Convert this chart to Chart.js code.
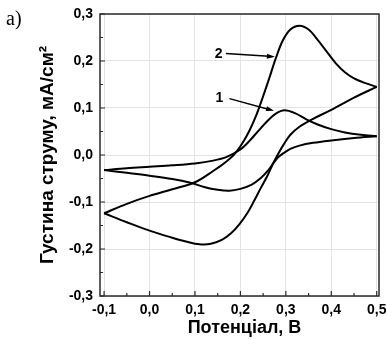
<!DOCTYPE html>
<html>
<head>
<meta charset="utf-8">
<script src="https://cdn.jsdelivr.net/npm/chart.js@4"></script>
<style>
html, body { margin: 0; padding: 0; background: #fff; }
</style>
</head>
<body>
<canvas id="cvChart" width="387" height="339"></canvas>
<script>
// Tick labels (values on the axes)
const xTicks = [-0.1, 0.0, 0.1, 0.2, 0.3, 0.4, 0.5];
const yTicks = [-0.3, -0.2, -0.1, 0.0, 0.1, 0.2, 0.3];

// Curve 1, forward scan (potential, V / current density, mA/cm2)
const c1FwdE = [-0.1, -0.05, 0.0, 0.05, 0.1, 0.14, 0.17, 0.2, 0.22, 0.24, 0.26, 0.278, 0.297, 0.32, 0.345, 0.37, 0.4, 0.43, 0.465, 0.5];
const c1FwdJ = [-0.032, -0.028, -0.025, -0.022, -0.018, -0.012, -0.004, 0.012, 0.030, 0.052, 0.073, 0.088, 0.095, 0.089, 0.076, 0.065, 0.055, 0.048, 0.043, 0.040];
// Curve 1, reverse scan
const c1RevE = [0.5, 0.45, 0.4, 0.36, 0.33, 0.31, 0.295, 0.283, 0.272, 0.26, 0.245, 0.225, 0.2, 0.176, 0.15, 0.12, 0.09, 0.05, 0.0, -0.05, -0.1];
const c1RevJ = [0.040, 0.036, 0.031, 0.026, 0.020, 0.013, 0.004, -0.005, -0.018, -0.034, -0.049, -0.063, -0.072, -0.076, -0.074, -0.068, -0.059, -0.051, -0.044, -0.038, -0.032];

// Curve 2, forward scan
const c2FwdE = [-0.1, -0.05, 0.0, 0.05, 0.1, 0.14, 0.165, 0.187, 0.205, 0.22, 0.235, 0.25, 0.264, 0.278, 0.293, 0.31, 0.33, 0.35, 0.37, 0.39, 0.41, 0.43, 0.45, 0.475, 0.5];
const c2FwdJ = [-0.124, -0.104, -0.087, -0.073, -0.058, -0.034, -0.017, 0.002, 0.026, 0.052, 0.085, 0.125, 0.165, 0.206, 0.243, 0.267, 0.275, 0.267, 0.245, 0.220, 0.195, 0.176, 0.163, 0.153, 0.145];
// Curve 2, reverse scan
const c2RevE = [0.5, 0.45, 0.4, 0.36, 0.33, 0.31, 0.295, 0.283, 0.272, 0.26, 0.245, 0.23, 0.215, 0.198, 0.18, 0.16, 0.135, 0.11, 0.08, 0.05, 0.0, -0.05, -0.1];
const c2RevJ = [0.145, 0.122, 0.096, 0.077, 0.060, 0.043, 0.022, 0.002, -0.018, -0.043, -0.070, -0.098, -0.124, -0.147, -0.166, -0.180, -0.189, -0.190, -0.184, -0.176, -0.161, -0.143, -0.124];

// Curve numbers and their arrows (data coordinates)
const noteText = ['1', '2'];
const noteAt = [[0.154, 0.122], [0.152, 0.2155]];
const arrowFrom = [[0.176, 0.120], [0.168, 0.216]];
const arrowTo = [[0.274, 0.094], [0.276, 0.209]];

function pts(e, j) {
    return e.map((v, i) => ({ x: v, y: j[i] }));
}

function fmt(v) {
    return v.toFixed(1).replace('.', ',');
}

const FONT = "'Liberation Sans', Arial, sans-serif";

function curve(e, j) {
    return {
        data: pts(e, j),
        showLine: true,
        borderColor: '#000',
        borderWidth: 2,
        pointRadius: 0,
        tension: 0.35,
        fill: false
    };
}

// frame, inward ticks, notes
const decor = {
    id: 'decor',
    afterDraw(chart) {
        const ctx = chart.ctx;
        const a = chart.chartArea;
        const xs = chart.scales.x;
        const ys = chart.scales.y;
        ctx.save();

        ctx.strokeStyle = '#2a2a2a';
        ctx.lineWidth = 1.5;
        ctx.strokeRect(a.left, a.top, a.right - a.left, a.bottom - a.top);

        ctx.lineWidth = 1.2;
        ctx.beginPath();
        xTicks.forEach((v, i) => {
            const px = xs.getPixelForValue(v);
            ctx.moveTo(px, a.bottom);
            ctx.lineTo(px, a.bottom - 5);
            if (i < xTicks.length - 1) {
                const m = xs.getPixelForValue((v + xTicks[i + 1]) / 2);
                ctx.moveTo(m, a.bottom);
                ctx.lineTo(m, a.bottom - 3);
            }
        });
        yTicks.forEach((v, i) => {
            const py = ys.getPixelForValue(v);
            ctx.moveTo(a.left, py);
            ctx.lineTo(a.left + 5, py);
            if (i < yTicks.length - 1) {
                const m = ys.getPixelForValue((v + yTicks[i + 1]) / 2);
                ctx.moveTo(a.left, m);
                ctx.lineTo(a.left + 3, m);
            }
        });
        ctx.stroke();

        // curve numbers with arrows
        ctx.fillStyle = '#000';
        ctx.strokeStyle = '#000';
        ctx.font = 'bold 14px ' + FONT;
        ctx.textAlign = 'center';
        ctx.textBaseline = 'middle';
        noteText.forEach((t, i) => {
            ctx.fillText(t, xs.getPixelForValue(noteAt[i][0]), ys.getPixelForValue(noteAt[i][1]));
            const x0 = xs.getPixelForValue(arrowFrom[i][0]);
            const y0 = ys.getPixelForValue(arrowFrom[i][1]);
            const x1 = xs.getPixelForValue(arrowTo[i][0]);
            const y1 = ys.getPixelForValue(arrowTo[i][1]);
            const ang = Math.atan2(y1 - y0, x1 - x0);
            ctx.lineWidth = 1.5;
            ctx.beginPath();
            ctx.moveTo(x0, y0);
            ctx.lineTo(x1 - 6 * Math.cos(ang), y1 - 6 * Math.sin(ang));
            ctx.stroke();
            ctx.beginPath();
            ctx.moveTo(x1, y1);
            ctx.lineTo(x1 - 8 * Math.cos(ang) + 2.5 * Math.sin(ang), y1 - 8 * Math.sin(ang) - 2.5 * Math.cos(ang));
            ctx.lineTo(x1 - 8 * Math.cos(ang) - 2.5 * Math.sin(ang), y1 - 8 * Math.sin(ang) + 2.5 * Math.cos(ang));
            ctx.closePath();
            ctx.fill();
        });

        // panel letter
        ctx.font = "20px 'Liberation Serif', 'Times New Roman', serif";
        ctx.textAlign = 'left';
        ctx.textBaseline = 'alphabetic';
        ctx.fillText('а)', 6, 25);
        ctx.restore();
    }
};

function zeroPad(scale) {
    scale.paddingLeft = 0;
    scale.paddingRight = 0;
    scale.paddingTop = 0;
    scale.paddingBottom = 0;
}

new Chart(document.getElementById('cvChart'), {
    type: 'scatter',
    data: {
        datasets: [
            curve(c1FwdE, c1FwdJ),
            curve(c1RevE, c1RevJ),
            curve(c2FwdE, c2FwdJ),
            curve(c2RevE, c2RevJ)
        ]
    },
    options: {
        responsive: false,
        animation: false,
        devicePixelRatio: 1,
        layout: { padding: { top: 14, right: 8, left: 0, bottom: 0 } },
        plugins: {
            legend: { display: false },
            tooltip: { enabled: false }
        },
        scales: {
            x: {
                type: 'linear',
                min: -0.109,
                max: 0.505,
                afterBuildTicks: s => { s.ticks = xTicks.map(v => ({ value: v })); },
                afterFit: s => { s.height = 43; zeroPad(s); },
                grid: { color: '#e3e3e3', drawTicks: false },
                border: { display: false },
                ticks: {
                    padding: 6,
                    color: '#000',
                    maxRotation: 0,
                    font: { family: FONT, size: 14, weight: 'bold' },
                    callback: v => fmt(v)
                },
                title: {
                    display: true,
                    text: '  Потенціал, В',
                    color: '#000',
                    padding: { top: 0, bottom: 0 },
                    font: { family: FONT, size: 18, weight: 'bold' }
                }
            },
            y: {
                type: 'linear',
                min: -0.3,
                max: 0.3,
                afterBuildTicks: s => { s.ticks = yTicks.map(v => ({ value: v })); },
                afterFit: s => { s.width = 100; zeroPad(s); },
                grid: { color: '#e3e3e3', drawTicks: false },
                border: { display: false },
                ticks: {
                    padding: 7,
                    color: '#000',
                    font: { family: FONT, size: 14, weight: 'bold' },
                    callback: v => fmt(v)
                },
                title: {
                    display: true,
                    text: 'Густина струму, мА/см²',
                    color: '#000',
                    padding: { top: 36, bottom: 0 },
                    font: { family: FONT, size: 19, weight: 'bold' }
                }
            }
        }
    },
    plugins: [decor]
});
</script>
</body>
</html>
